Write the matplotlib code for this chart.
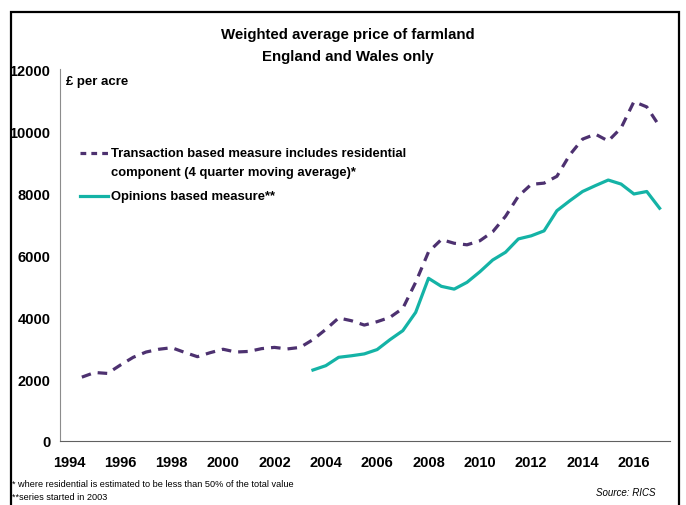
import matplotlib.pyplot as plt
from matplotlib.patches import Rectangle

# Data (half-yearly points)
trans_years = [1994.5, 1995.0, 1995.5, 1996.0, 1996.5, 1997.0, 1997.5, 1998.0, 1998.5, 1999.0,
               1999.5, 2000.0, 2000.5, 2001.0, 2001.5, 2002.0, 2002.5, 2003.0, 2003.5, 2004.0,
               2004.5, 2005.0, 2005.5, 2006.0, 2006.5, 2007.0, 2007.5, 2008.0, 2008.5, 2009.0,
               2009.5, 2010.0, 2010.5, 2011.0, 2011.5, 2012.0, 2012.5, 2013.0, 2013.5, 2014.0,
               2014.5, 2015.0, 2015.5, 2016.0, 2016.5, 2017.0]
transaction = [2060, 2210, 2180, 2450, 2700, 2870, 2960, 3010, 2860, 2720,
               2850, 2960, 2870, 2890, 2980, 3020, 2970, 3020, 3270, 3600,
               3970, 3880, 3740, 3850, 3990, 4280, 5120, 6100, 6500, 6380,
               6330, 6460, 6750, 7250, 7900, 8280, 8320, 8540, 9230, 9740,
               9900, 9680, 10100, 10950, 10780, 10150]

opin_years = [2003.5, 2004.0, 2004.5, 2005.0, 2005.5, 2006.0, 2006.5, 2007.0, 2007.5, 2008.0,
              2008.5, 2009.0, 2009.5, 2010.0, 2010.5, 2011.0, 2011.5, 2012.0, 2012.5, 2013.0,
              2013.5, 2014.0, 2014.5, 2015.0, 2015.5, 2016.0, 2016.5, 2017.0]
opinions = [2290, 2430, 2700, 2750, 2810, 2950, 3270, 3560, 4150, 5250,
            4990, 4900, 5120, 5460, 5840, 6090, 6520, 6620, 6780, 7430,
            7750, 8050, 8240, 8420, 8290, 7970, 8050, 7510]

tick_years = list(range(1994, 2017, 2))
y_ticks = [0, 2000, 4000, 6000, 8000, 10000, 12000]

purple = '#4d3170'
teal = '#14b3a6'

plt.rcParams['font.family'] = ['Liberation Sans', 'DejaVu Sans']

fig = plt.figure(figsize=(6.86, 5.06), dpi=100)
ax = fig.add_axes([0.0875, 0.1265, 0.889, 0.735])

ax.plot(trans_years, transaction, color=purple, lw=2.3, linestyle=(0, (3.0, 2.2)))
ax.plot(opin_years, opinions, color=teal, lw=2.3)

ax.set_xlim(1993.65, 2017.4)
ax.set_ylim(0, 12000)
ax.set_xticks(tick_years)
ax.set_xticklabels([str(y) for y in tick_years], fontsize=10.5, fontweight='bold')
ax.set_yticks(y_ticks)
ax.set_yticklabels([str(v) for v in y_ticks], fontsize=10.5, fontweight='bold')
ax.tick_params(axis='both', length=0)
ax.tick_params(axis='x', pad=10)
ax.tick_params(axis='y', pad=7)

for s in ['top', 'right']:
    ax.spines[s].set_visible(False)
ax.spines['left'].set_color('#8c8c8c')
ax.spines['bottom'].set_color('#606060')

ax.text(0.01, 0.985, '£ per acre', transform=ax.transAxes, fontsize=9.5, fontweight='bold',
        va='top', ha='left')

# Legend drawn by hand
ax.plot([0.033, 0.079], [0.774, 0.774], transform=ax.transAxes, color=purple, lw=2.3,
        linestyle=(0, (1.8, 1.6)))
ax.plot([0.033, 0.079], [0.659, 0.659], transform=ax.transAxes, color=teal, lw=2.3)
ax.text(0.083, 0.774, 'Transaction based measure includes residential', transform=ax.transAxes,
        fontsize=9.4, fontweight='bold', va='center')
ax.text(0.083, 0.723, 'component (4 quarter moving average)*', transform=ax.transAxes,
        fontsize=9.4, fontweight='bold', va='center')
ax.text(0.083, 0.659, 'Opinions based measure**', transform=ax.transAxes,
        fontsize=9.4, fontweight='bold', va='center')

fig.text(0.507, 0.944, 'Weighted average price of farmland\nEngland and Wales only',
         ha='center', va='top', fontsize=10.8, fontweight='bold', linespacing=1.7)

fig.text(0.018, 0.043, '* where residential is estimated to be less than 50% of the total value',
         fontsize=6.6, va='center')
fig.text(0.018, 0.016, '**series started in 2003', fontsize=6.6, va='center')
fig.text(0.955, 0.026, 'Source: RICS', fontsize=7, style='italic', ha='right', va='center')

fig.patches.append(Rectangle((11 / 686, -0.05), 668 / 686, 0.05 + 1 - 13 / 506,
                             transform=fig.transFigure, fill=False, edgecolor='black',
                             lw=1.6, clip_on=False))

plt.savefig('out.png', dpi=100)
